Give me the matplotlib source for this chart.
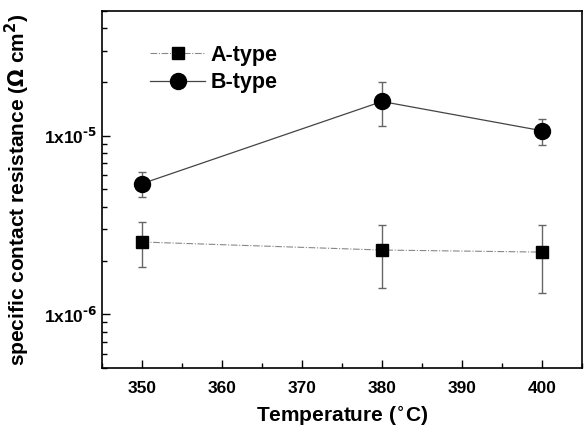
import matplotlib
matplotlib.use("Agg")
import matplotlib.pyplot as plt
from matplotlib.ticker import LogLocator, FixedLocator, MultipleLocator, NullFormatter, FuncFormatter

plt.rcParams['font.family'] = ['Liberation Sans', 'DejaVu Sans']
plt.rcParams['font.weight'] = 'bold'
plt.rcParams['mathtext.default'] = 'bf'

temps = [350, 380, 400]
a_vals = [2.54e-6, 2.29e-6, 2.23e-6]
a_err_hi = [3.27e-6, 3.16e-6, 3.16e-6]
a_err_lo = [1.83e-6, 1.40e-6, 1.32e-6]
b_vals = [5.39e-6, 1.556e-5, 1.067e-5]
b_err_hi = [6.28e-6, 1.99e-5, 1.245e-5]
b_err_lo = [4.53e-6, 1.13e-5, 8.87e-6]
y_ticks = [1e-6, 1e-5]
y_tick_labels = [r'1x10$^{\text{-6}}$', r'1x10$^{\text{-5}}$']

fig = plt.figure(figsize=(5.84, 4.36), dpi=100)
ax = fig.add_axes([102/584, 1-368/436, 480/584, 357/436])

def errs(v, lo, hi):
    return [[x - l for x, l in zip(v, lo)], [h - x for x, h in zip(v, hi)]]

ax.errorbar(temps, a_vals, yerr=errs(a_vals, a_err_lo, a_err_hi), fmt='none',
            ecolor='#666666', elinewidth=1.0, capsize=3.0, capthick=1.0)
ax.errorbar(temps, b_vals, yerr=errs(b_vals, b_err_lo, b_err_hi), fmt='none',
            ecolor='#666666', elinewidth=1.0, capsize=3.0, capthick=1.0)
ax.plot(temps, a_vals, linestyle=(0, (6, 1.5, 1, 1.5)), color='#888888', linewidth=0.8,
        marker='s', markersize=9, markerfacecolor='black', markeredgecolor='black',
        label='A-type')
ax.plot(temps, b_vals, linestyle='-', color='#444444', linewidth=0.9,
        marker='o', markersize=11.5, markerfacecolor='black', markeredgecolor='black',
        label='B-type')

ax.set_yscale('log')
ax.set_xlim(345, 405)
ax.set_ylim(5e-7, 5e-5)

ax.xaxis.set_major_locator(MultipleLocator(10))
ax.xaxis.set_minor_locator(MultipleLocator(5))
ax.yaxis.set_major_locator(FixedLocator(y_ticks))
ax.yaxis.set_major_formatter(FuncFormatter(
    lambda v, p: dict(zip(y_ticks, y_tick_labels)).get(v, '')))
ax.yaxis.set_minor_locator(LogLocator(base=10, subs=range(2, 10)))
ax.yaxis.set_minor_formatter(NullFormatter())

ax.tick_params(which='both', direction='in', top=False, right=False, labelsize=12.5)
ax.tick_params(which='major', length=6, width=1.0)
ax.tick_params(which='minor', length=3.5, width=1.0)
ax.tick_params(axis='x', pad=9)
for lbl in ax.get_xticklabels() + ax.get_yticklabels():
    lbl.set_fontweight('bold')
for s in ax.spines.values():
    s.set_linewidth(1.2)

ax.set_xlabel(r'Temperature ($^{\circ}$C)', fontsize=15, fontweight='bold', labelpad=6)
ax.set_ylabel(r'specific contact resistance ($\mathbf{\Omega}$ cm$^{\mathbf{2}}$)',
              fontsize=15, fontweight='bold', labelpad=8)

leg = ax.legend(loc='upper left', bbox_to_anchor=(0.06, 0.96), frameon=False,
                fontsize=15.5, handlelength=2.55, handletextpad=0.25, labelspacing=0.3)

fig.savefig('out.png', dpi=100)
